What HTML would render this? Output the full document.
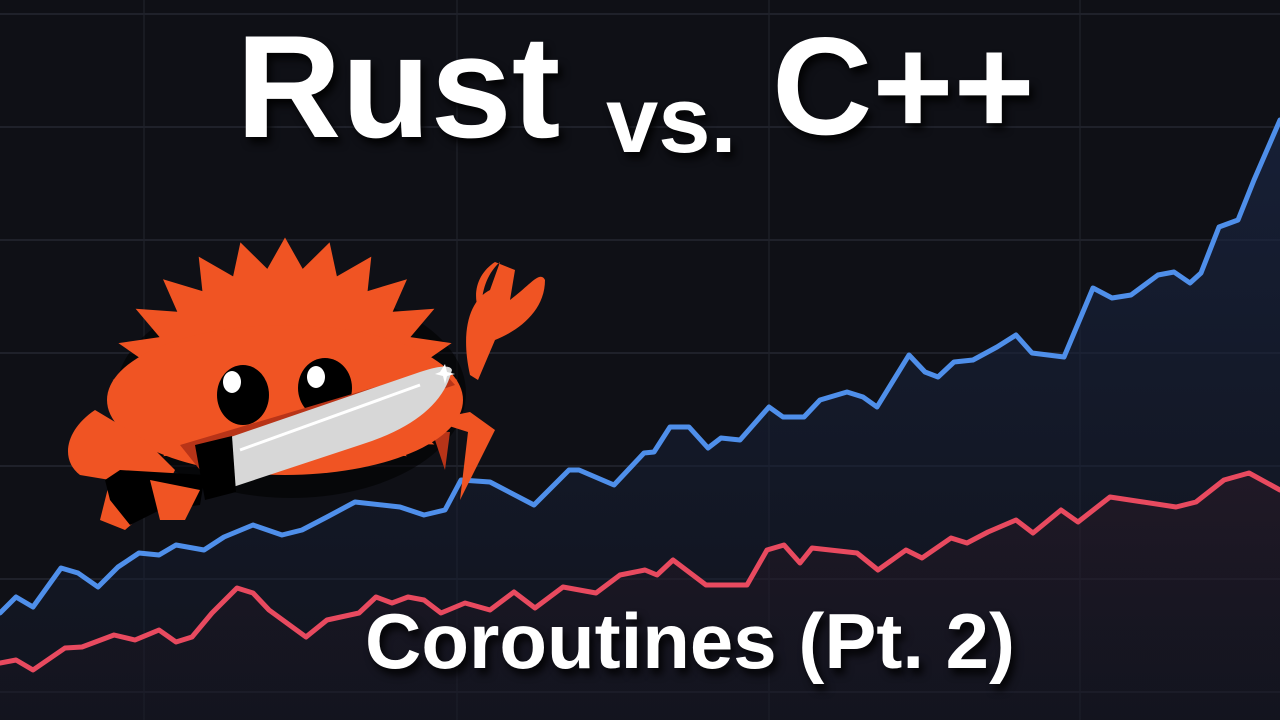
<!DOCTYPE html>
<html><head><meta charset="utf-8">
<style>
html,body{margin:0;padding:0;background:#0f1016;}
#wrap{position:relative;width:1280px;height:720px;overflow:hidden;background:#0f1016;font-family:"Liberation Sans",sans-serif;}
svg{position:absolute;left:0;top:0;}
.t{position:absolute;color:#fff;font-weight:bold;white-space:nowrap;text-shadow:4px 6px 8px rgba(0,0,0,0.85);}
</style></head>
<body>
<div id="wrap">
<svg id="chart" width="1280" height="720">
  <defs>
    <linearGradient id="gb" x1="0" y1="0" x2="0" y2="1">
      <stop offset="0" stop-color="#1a2644" stop-opacity="0.7"/>
      <stop offset="1" stop-color="#141a2a" stop-opacity="0.4"/>
    </linearGradient>
    <linearGradient id="gr" x1="0" y1="0" x2="0" y2="1">
      <stop offset="0" stop-color="#3a1a26" stop-opacity="0.35"/>
      <stop offset="1" stop-color="#1a1520" stop-opacity="0.2"/>
    </linearGradient>
  </defs>
  <g id="grid"></g>
  <g id="areas"></g>
  <g id="lines"></g>
</svg>

<svg width="1280" height="720">
  <g>
    <g transform="translate(6,8)" opacity="0.55" fill="#000">
      <ellipse cx="285" cy="385" rx="175" ry="105"/>
    </g>
    <path d="M470,375 C460,330 470,300 490,290 L500,262 C485,275 478,300 484,320 C470,300 475,275 495,262 L515,270 L510,300 C530,285 540,270 545,280 C545,310 520,330 495,340 L478,380 Z" fill="#f05423"/>
    <path d="M430,420 L470,412 L495,430 L460,500 L468,432 Z" fill="#f05423"/>
    <path d="M420,430 L450,432 L445,470 L435,440 Z" fill="#b83418"/>
    <polygon id="spiky" fill="#f05423" points=""/>
    <ellipse cx="285" cy="400" rx="178" ry="75" fill="#f05423"/>
    <path d="M95,410 C65,430 60,460 80,475 L110,480 L100,520 L125,530 L160,500 L175,470 L145,440 Z" fill="#f05423"/>
    <path d="M120,470 L105,480 L110,500 L130,525 L160,510 L200,505 L205,475 Z" fill="#000"/>
    <path d="M150,480 L160,520 L185,520 L200,490 Z" fill="#f05423"/>
    <ellipse cx="243" cy="395" rx="26" ry="30" fill="#000"/>
    <ellipse cx="325" cy="388" rx="27" ry="30" fill="#000"/>
    <ellipse cx="232" cy="382" rx="9" ry="11" fill="#fff"/>
    <ellipse cx="316" cy="377" rx="9" ry="11" fill="#fff"/>
    <path d="M180,445 L440,368 L455,385 L200,470 Z" fill="#b83418"/>
    <path d="M222,440 L420,372 Q450,362 452,370 Q440,420 360,445 L230,488 Z" fill="#d7d7d7"/>
    <path d="M240,450 L420,385" stroke="#fff" stroke-width="3"/>
    <path d="M195,445 L232,436 L236,492 L205,500 Z" fill="#000"/>
    <path d="M440,372 l5,-8 l2,8 l8,2 l-8,2 l-2,8 l-2,-8 l-8,-2 Z" fill="#fff"/>
  </g>
</svg>

<div class="t" style="left:236px;top:14px;font-size:146px;line-height:1;">Rust</div>
<div class="t" style="left:606px;top:73px;font-size:94px;line-height:1;">vs.</div>
<div class="t" style="left:772px;top:17px;font-size:139px;line-height:1;">C++</div>
<div class="t" style="left:365px;top:602px;font-size:78px;line-height:1;">Coroutines (Pt. 2)</div>
</div>

<script>
// Data: x = time, values = metric (higher is better)
const blueX = [0,16,33,61,78,98,118,139,159,176,204,224,253,282,302,327,355,400,424,445,461,490,534,569,579,614,644,654,670,689,708,721,740,769,783,804,820,847,863,877,909,925,938,954,973,997,1016,1032,1064,1093,1112,1131,1158,1174,1190,1201,1219,1238,1254,1280];
const blueV = [107,123,113,152,147,133,153,167,165,175,170,183,195,185,190,203,218,213,205,210,240,238,215,250,250,235,267,268,293,293,272,282,280,313,303,303,320,328,323,313,365,348,343,358,360,373,385,367,363,432,422,425,445,448,437,447,493,500,540,600];
const redX = [0,16,33,65,82,114,135,159,176,192,212,237,253,269,306,327,359,376,392,408,424,441,465,490,514,535,563,596,620,645,657,673,706,747,767,784,800,812,857,878,906,922,951,967,988,1016,1033,1061,1078,1110,1143,1176,1196,1224,1249,1280];
const redV = [57,60,50,72,73,85,80,90,78,83,107,132,127,110,83,100,107,123,117,123,120,107,117,110,128,112,133,127,145,150,145,160,135,135,170,175,157,172,167,150,170,162,182,177,188,200,187,210,198,223,218,213,218,240,247,230];
const xTicks = [144,457,769,1080];
const yTicks = [28,141,254,367,480,593,706];

const W=1280,H=720;
const xs = v => v/1280*W;
const ys = v => H - v;
const NS="http://www.w3.org/2000/svg";
const grid=document.getElementById('grid');
xTicks.forEach(t=>{
  const l=document.createElementNS(NS,'line');
  
  
  l.setAttribute('x1',xs(t));l.setAttribute('x2',xs(t));l.setAttribute('y1',0);l.setAttribute('y2',H);
  l.setAttribute('stroke','#1d1f27');l.setAttribute('stroke-width','1.5');
  grid.appendChild(l);
});
yTicks.forEach(t=>{
  const l=document.createElementNS(NS,'line');
  
  
  l.setAttribute('x1',0);l.setAttribute('x2',W);l.setAttribute('y1',ys(t));l.setAttribute('y2',ys(t));
  l.setAttribute('stroke','#1f212a');l.setAttribute('stroke-width','2');
  grid.appendChild(l);
});
function pts(X,V){return X.map((x,i)=>xs(x).toFixed(1)+','+ys(V[i]).toFixed(1)).join(' ');}
function area(X,V,fill,name){
  const p=document.createElementNS(NS,'polygon');
  
  
  p.setAttribute('points',pts(X,V)+' '+xs(X[X.length-1])+','+H+' '+xs(X[0])+','+H);
  p.setAttribute('fill',fill);
  document.getElementById('areas').appendChild(p);
}
function line(X,V,col,name){
  const p=document.createElementNS(NS,'polyline');
  
  
  p.setAttribute('points',pts(X,V));
  p.setAttribute('fill','none');p.setAttribute('stroke',col);p.setAttribute('stroke-width','5');
  p.setAttribute('stroke-linejoin','round');p.setAttribute('stroke-linecap','round');
  document.getElementById('lines').appendChild(p);
}
area(blueX,blueV,'url(#gb)','rust-area');
area(redX,redV,'url(#gr)','cpp-area');
line(blueX,blueV,'#4f8fea','rust-line');
line(redX,redV,'#e84a5f','cpp-line');

(function(){
  const cx=285,cy=380,n=24,rO=150,rI=118;let s=[];
  for(let i=0;i<n*2;i++){
    const a=Math.PI*i/n - Math.PI/2, r=i%2?rI:rO;
    let yy=cy+Math.sin(a)*r*0.95; if(yy>440) yy=440+(yy-440)*0.4;
    s.push((cx+Math.cos(a)*r*1.15).toFixed(1)+','+yy.toFixed(1));
  }
  document.getElementById('spiky').setAttribute('points',s.join(' '));
})();
</script>
</body></html>
